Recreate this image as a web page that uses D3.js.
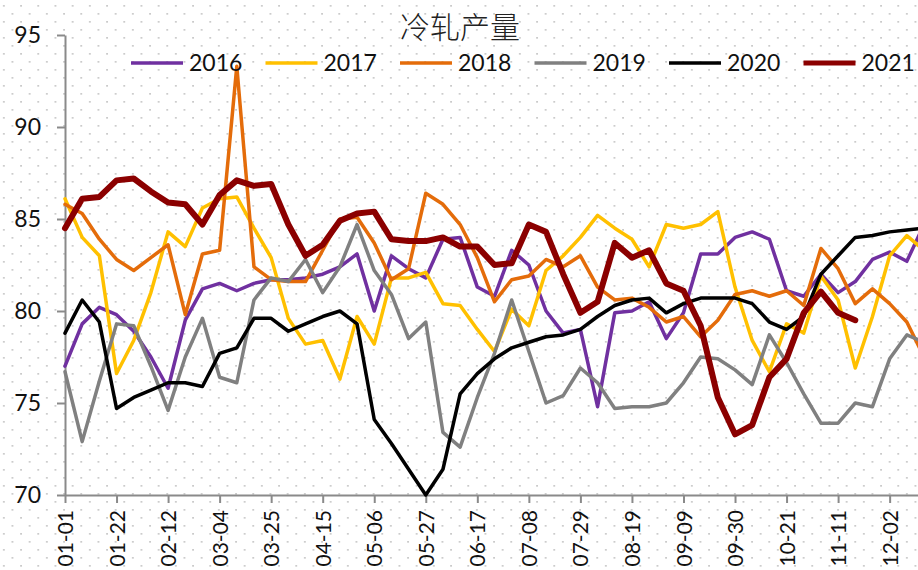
<!DOCTYPE html>
<html>
<head>
<meta charset="utf-8">
<script src="https://cdn.jsdelivr.net/npm/d3@7/dist/d3.min.js"></script>
<style>
  html, body { margin: 0; padding: 0; background: #fff; }
  svg { display: block; }
</style>
</head>
<body>
<svg id="chart" width="918" height="570"></svg>
<script>
// Weekly cold-rolled steel output, one line per year
const weeks = ["01-01","01-08","01-15","01-22","01-29","02-05","02-12","02-19","02-26","03-04",
  "03-11","03-18","03-25","04-01","04-08","04-15","04-22","04-29","05-06","05-13",
  "05-20","05-27","06-03","06-10","06-17","06-24","07-01","07-08","07-15","07-22",
  "07-29","08-05","08-12","08-19","08-26","09-02","09-09","09-16","09-23","09-30",
  "10-07","10-14","10-21","10-28","11-04","11-11","11-18","11-25","12-02","12-09","12-16"];

const y2016 = [77.0,79.3,80.2,79.8,78.9,77.5,75.8,79.5,81.2,81.5,81.1,81.5,81.7,81.7,81.8,82.0,82.4,83.1,80.0,83.0,
  82.3,81.8,83.9,84.0,81.3,80.8,83.3,82.5,80.0,78.8,79.0,74.8,79.9,80.0,80.5,78.5,79.9,83.1,83.1,84.0,
  84.3,83.9,81.1,80.8,82.0,81.0,81.6,82.8,83.2,82.7,84.7];
const y2017 = [86.1,84.0,83.0,76.6,78.4,81.0,84.3,83.5,85.6,86.1,86.2,84.5,82.9,79.6,78.2,78.4,76.3,79.7,78.2,81.8,
  81.8,82.1,80.4,80.3,79.0,77.8,80.1,79.2,82.2,83.0,84.0,85.2,84.5,83.9,82.4,84.7,84.5,84.7,85.4,81.3,
  78.4,76.7,79.3,78.8,81.9,80.6,76.9,79.7,83.0,84.1,83.3];
const y2018 = [85.8,85.3,83.9,82.8,82.2,82.9,83.6,79.8,83.1,83.3,93.3,82.4,81.7,81.6,81.6,83.3,85.0,85.1,83.7,81.7,
  82.3,86.4,85.8,84.7,82.9,80.5,81.7,81.9,82.8,82.4,83.0,81.3,80.6,80.7,80.2,79.4,79.7,78.6,79.5,80.9,
  81.1,80.8,81.1,80.3,83.4,82.3,80.4,81.2,80.4,79.4,77.5];
const y2019 = [76.7,72.9,76.2,79.3,79.2,77.0,74.6,77.5,79.6,76.4,76.1,80.6,81.8,81.6,82.8,81.0,82.4,84.7,82.2,80.9,
  78.5,79.4,73.4,72.6,75.3,77.7,80.6,77.8,75.0,75.4,76.9,76.1,74.7,74.8,74.8,75.0,76.1,77.5,77.4,76.8,
  76.0,78.7,77.2,75.5,73.9,73.9,75.0,74.8,77.4,78.7,78.3];
const y2020 = [78.8,80.6,79.4,74.7,75.3,75.7,76.1,76.1,75.9,77.7,78.0,79.6,79.6,78.9,79.3,79.7,80.0,79.3,74.1,72.8,
  71.4,70.0,71.4,75.5,76.6,77.4,78.0,78.3,78.6,78.7,79.0,79.7,80.3,80.6,80.7,79.9,80.4,80.7,80.7,80.7,
  80.4,79.4,79.0,79.7,82.0,83.0,84.0,84.1,84.3,84.4,84.5];
const y2021 = [84.5,86.1,86.2,87.1,87.2,86.5,85.9,85.8,84.7,86.3,87.1,86.8,86.9,84.7,83.0,83.6,84.9,85.3,85.4,83.9,
  83.8,83.8,84.0,83.5,83.5,82.5,82.6,84.7,84.3,82.0,79.9,80.5,83.7,82.9,83.3,81.5,81.1,79.2,75.3,73.3,
  73.8,76.4,77.4,79.9,81.05,79.9,79.5];

const yearNames = ["2016","2017","2018","2019","2020","2021"];
const yearColors = ["#7030A0","#FFC000","#E46C0A","#808080","#000000","#8B0000"];
const yearWidths = [3.5,3.5,3.5,3.5,3.5,6];
const yearValues = [y2016,y2017,y2018,y2019,y2020,y2021];
const yTicks = [70,75,80,85,90,95];
const titleText = "冷轧产量";

const svg = d3.select("#chart");
const W = 918, H = 570;
const numFont = "Lato, 'Liberation Sans', sans-serif";

// dotted background texture
const defs = svg.append("defs");
const pat = defs.append("pattern").attr("id","dots")
  .attr("patternUnits","userSpaceOnUse").attr("width",17.2).attr("height",16);
pat.append("rect").attr("x",3).attr("y",5).attr("width",1.7).attr("height",1.7).attr("fill","#c6c6c6");
pat.append("rect").attr("x",11.6).attr("y",13).attr("width",1.7).attr("height",1.7).attr("fill","#c6c6c6");
svg.append("rect").attr("width",W).attr("height",H).attr("fill","#fff");
svg.append("rect").attr("width",W).attr("height",H).attr("fill","url(#dots)");

const x = d3.scalePoint().domain(weeks).range([65, 65 + 17.18 * (weeks.length - 1)]);
const y = d3.scaleLinear().domain([70, 95]).range([495, 35]);

// axes
const axisColor = "#8a8a8a";
const yAxis = svg.append("g").attr("transform","translate(65,0)")
  .call(d3.axisLeft(y).tickValues(yTicks).tickSize(8).tickSizeOuter(0).tickPadding(16));
const xAxis = svg.append("g").attr("transform","translate(0,495)")
  .call(d3.axisBottom(x).tickValues(weeks.filter((d,i) => i % 3 === 0)).tickSize(8).tickSizeOuter(0));
[yAxis, xAxis].forEach(g => {
  g.select(".domain").attr("stroke", axisColor).attr("stroke-width", 2);
  g.selectAll(".tick line").attr("stroke", axisColor).attr("stroke-width", 2);
  g.selectAll("text").attr("fill","#111").style("font-family", numFont);
});
yAxis.selectAll("text").style("font-size","23px");
xAxis.selectAll("text").style("font-size","21px")
  .attr("transform","rotate(-90)").attr("text-anchor","end")
  .attr("x",-15).attr("y",0).attr("dy","0.36em");

// series lines
const line = d3.line().x((d,i) => x(weeks[i])).y(d => y(d));
yearValues.forEach((vals, k) => {
  svg.append("path").datum(vals)
    .attr("fill","none")
    .attr("stroke", yearColors[k])
    .attr("stroke-width", yearWidths[k])
    .attr("stroke-linejoin","round")
    .attr("stroke-linecap","round")
    .attr("d", line);
});

// title
svg.append("text").attr("x",460).attr("y",25)
  .attr("text-anchor","middle").attr("dominant-baseline","central")
  .style("font-family","'Noto Sans CJK SC', sans-serif").style("font-size","30px")
  .style("font-weight",300).attr("fill","#222").text(titleText);

// legend
const lg = svg.append("g");
yearNames.forEach((name, k) => {
  const x0 = 131 + k * 134.5;
  lg.append("line").attr("x1",x0).attr("x2",x0+52).attr("y1",63).attr("y2",63)
    .attr("stroke",yearColors[k]).attr("stroke-width", k === 5 ? 5 : 3.5);
  lg.append("text").attr("x",x0+58).attr("y",63).attr("dy","0.36em")
    .style("font-family",numFont).style("font-size","23px").attr("fill","#111").text(name);
});
</script>
</body>
</html>
